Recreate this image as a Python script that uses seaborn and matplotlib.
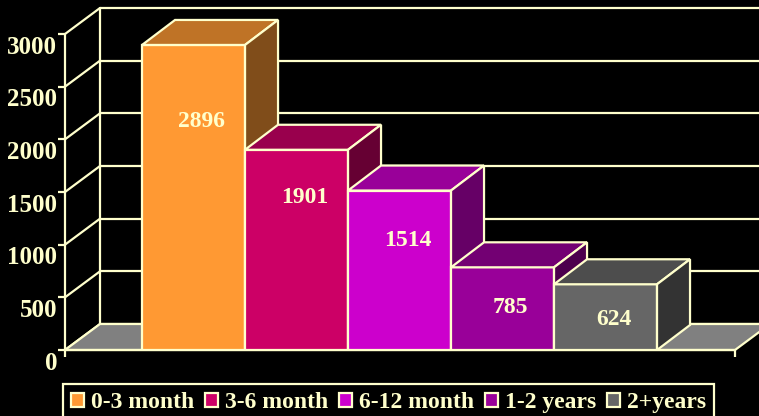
import numpy as np
import pandas as pd
import matplotlib
matplotlib.use("Agg")
import matplotlib.pyplot as plt
import seaborn as sns
from matplotlib.patches import Polygon, Rectangle
from matplotlib.lines import Line2D
from matplotlib.transforms import blended_transform_factory

# ---- data ----
categories = ["0-3 month", "3-6 month", "6-12 month", "1-2 years", "2+years"]
values = [2896, 1901, 1514, 785, 624]
yticks = [0, 500, 1000, 1500, 2000, 2500, 3000]
ytick_labels = ["0", "500", "1000", "1500", "2000", "2500", "3000"]

# ---- style ----
front_colors = ["#FF9933", "#CC0066", "#CC00CC", "#990099", "#666666"]
top_colors = ["#BF7326", "#99004D", "#990099", "#730073", "#4D4D4D"]
side_colors = ["#804D1A", "#660033", "#660066", "#4D004D", "#333333"]
label_frac = [0.75, 0.76, 0.685, 0.51, 0.46]
LINE = "#FFFFCC"
LW = 1.6
FS = 17

sns.set_theme(style="dark")
plt.rcParams["font.family"] = ["Liberation Serif", "DejaVu Serif"]
plt.rcParams["font.weight"] = "bold"

fig = plt.figure(figsize=(7.59, 4.16), dpi=100, facecolor="black")
ax = fig.add_axes([65 / 759, 66 / 416, 670 / 759, 316 / 416])
ax.set_facecolor("none")

df = pd.DataFrame({"period": categories, "count": values})
sns.barplot(data=df, x="period", y="count", hue="period", palette=front_colors,
            hue_order=categories, order=categories, width=1.0, dodge=False,
            saturation=1, legend=False, edgecolor=LINE, linewidth=LW, ax=ax, zorder=5)

x0, x1 = -0.5 - 0.748, 4.5 + 0.757
ax.set_xlim(x0, x1)
ax.set_ylim(0, 3000)
for s in ax.spines.values():
    s.set_visible(False)
ax.set_xlabel("")
ax.set_ylabel("")
ax.grid(False)

# pixel -> data conversions
fig.canvas.draw()
p0 = ax.transData.transform((0, 0))
p1 = ax.transData.transform((1, 1000))
ux = p1[0] - p0[0]
uy = (p1[1] - p0[1]) / 1000.0
dxw, dyw = 35 / ux, 26 / uy       # wall depth
dxb, dyb = 33 / ux, 25 / uy       # bar depth

def line(xs, ys, z=1):
    ax.add_line(Line2D(xs, ys, color=LINE, lw=LW, clip_on=False, zorder=z,
                       solid_capstyle="round"))

# floor
ax.add_patch(Polygon([(x0, 0), (x1, 0), (x1 + dxw, dyw), (x0 + dxw, dyw)],
                     closed=True, facecolor="#808080", edgecolor=LINE, lw=LW,
                     clip_on=False, zorder=1))
# back wall grid + left wall diagonals
for t in yticks:
    line([x0 + dxw, x1 + dxw], [t + dyw, t + dyw], z=0.5)
    line([x0, x0 + dxw], [t, t + dyw], z=0.6)
line([x0 + dxw, x0 + dxw], [dyw, 3000 + dyw], z=0.6)
line([x1 + dxw, x1 + dxw], [dyw, 3000 + dyw], z=0.6)
line([x0, x0], [0, 3000], z=2)
line([x0, x1], [0, 0], z=2)

# ticks
ax.set_yticks(yticks, labels=[])
ax.set_xticks([x0, x1], labels=[])
ax.tick_params(axis="both", colors=LINE, length=5, width=LW, direction="out",
               left=True, bottom=True)
tr = blended_transform_factory(ax.transAxes, ax.transData)
for t, lab in zip(yticks, ytick_labels):
    ax.text(-8 / 670, t - 1.5 / uy, lab, transform=tr, ha="right", va="top",
            color=LINE, fontsize=18, fontweight="bold")

# 3D faces of bars
patches = sorted([p for p in ax.patches if isinstance(p, Rectangle) and p.get_height() > 0],
                 key=lambda p: p.get_x())
for i, p in enumerate(patches):
    bx, bw, h = p.get_x(), p.get_width(), p.get_height()
    z = 10 + 3 * i
    p.set_zorder(z)
    p.set_facecolor(front_colors[i])
    ax.add_patch(Polygon([(bx, h), (bx + bw, h), (bx + bw + dxb, h + dyb), (bx + dxb, h + dyb)],
                         closed=True, facecolor=top_colors[i], edgecolor=LINE, lw=LW,
                         clip_on=False, zorder=z + 1))
    ax.add_patch(Polygon([(bx + bw, 0), (bx + bw + dxb, dyb), (bx + bw + dxb, h + dyb), (bx + bw, h)],
                         closed=True, facecolor=side_colors[i], edgecolor=LINE, lw=LW,
                         clip_on=False, zorder=z + 1))
    ax.text(bx + bw / 2 + 8 / ux, values[i] * label_frac[i], str(values[i]),
            ha="center", va="center", color=LINE, fontsize=FS, fontweight="bold",
            zorder=40)

# legend
handles = [Rectangle((0, 0), 1, 1, facecolor=c, edgecolor=LINE, linewidth=LW)
           for c in front_colors]
leg = fig.legend(handles, categories, ncol=5, loc="upper left",
                 bbox_to_anchor=(63 / 759, 1 - 384 / 416), frameon=True,
                 facecolor="black", edgecolor=LINE, fancybox=False,
                 handlelength=0.55, handleheight=0.55, handletextpad=0.3,
                 columnspacing=0.45, borderpad=0.35, borderaxespad=0,
                 labelcolor=LINE,
                 prop={"family": "Liberation Serif", "weight": "bold", "size": FS})
leg.get_frame().set_linewidth(LW)
leg.get_frame().set_alpha(1)

fig.savefig("out.png", dpi=100, facecolor="black")
